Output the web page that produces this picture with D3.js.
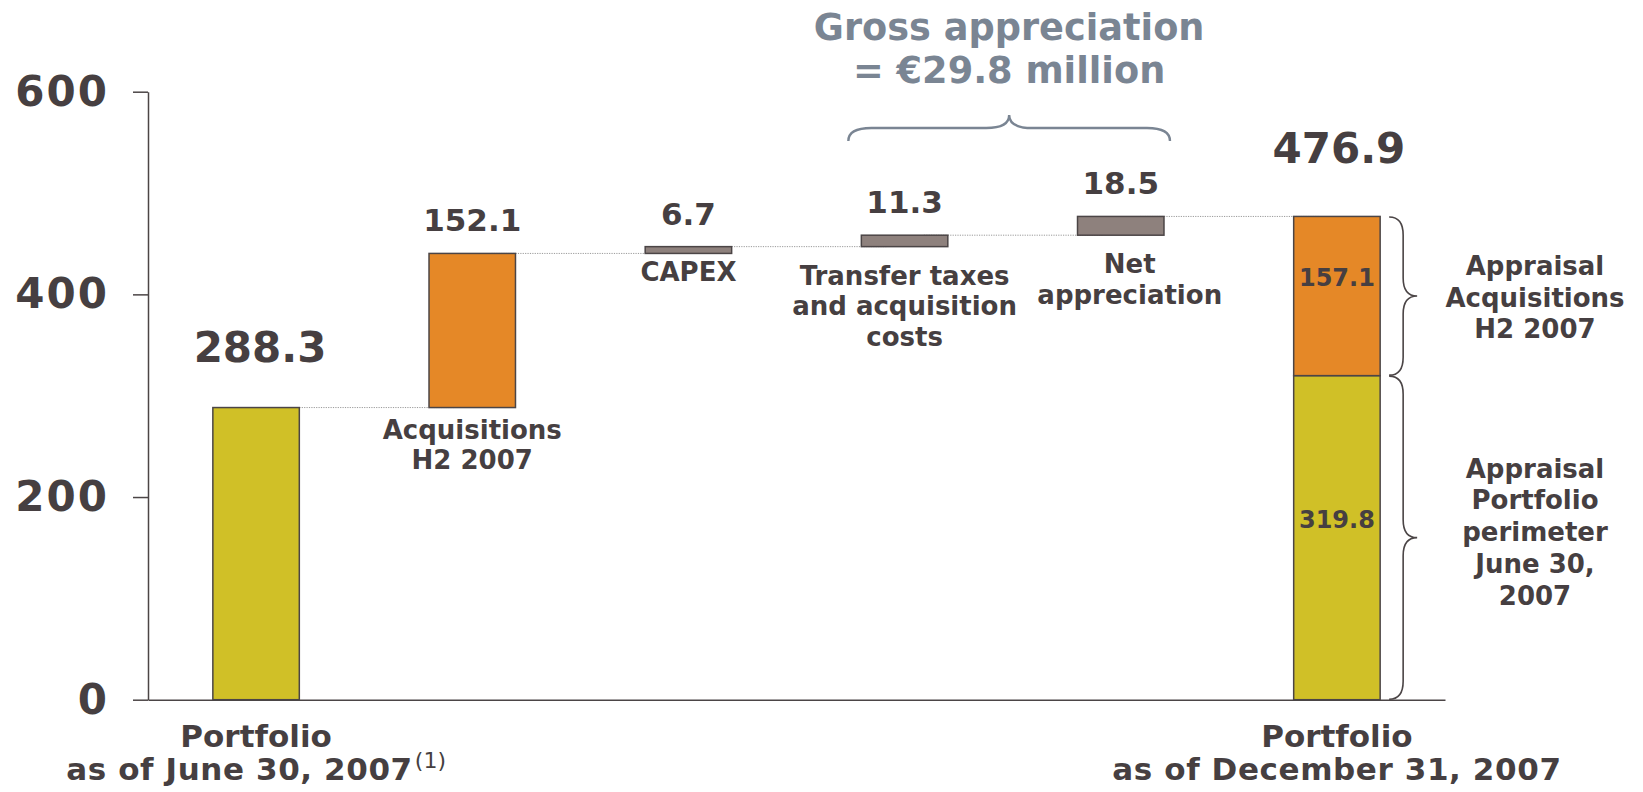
<!DOCTYPE html>
<html>
<head>
<meta charset="utf-8">
<script src="https://cdn.jsdelivr.net/npm/d3@7/dist/d3.min.js"></script>
<style>
  html, body { margin: 0; padding: 0; background: #ffffff; }
  svg { display: block; }
  text { font-family: "DejaVu Sans", Verdana, sans-serif; font-weight: bold; }
</style>
</head>
<body>
<svg id="chart" width="1643" height="792"></svg>
<script>
// Portfolio bridge, June 30 2007 -> December 31 2007 (EUR million)
const startLabel = ["Portfolio", "as of June 30, 2007"];
const endLabel = ["Portfolio", "as of December 31, 2007"];
const startValue = 288.3;
const stepNames = [
  ["Acquisitions", "H2 2007"],
  ["CAPEX"],
  ["Transfer taxes", "and acquisition", "costs"],
  ["Net", "appreciation"]
];
const stepValues = [152.1, 6.7, 11.3, 18.5];
const endSegmentNames = [
  ["Appraisal", "Portfolio", "perimeter", "June 30,", "2007"],
  ["Appraisal", "Acquisitions", "H2 2007"]
];
const endSegmentValues = [319.8, 157.1];
const yTicks = [0, 200, 400, 600];

const colors = {
  portfolio: "#D0C027",
  acquisition: "#E58827",
  step: "#8E817D",
  stroke: "#4B4546",
  text: "#463F41",
  title: "#7A8593",
  connector: "#9A9A9A"
};

const svg = d3.select("#chart");
const ids = d3.range(stepValues.length + 2);

const x = d3.scaleBand().domain(ids).range([148, 1445]).paddingInner(0.6).paddingOuter(0.3);
const y = d3.scaleLinear().domain([0, 600]).range([699.7, 91.7]);
const bw = x.bandwidth();
const fmt = d3.format(".1f");

// cumulative positions of the floating steps
const steps = [];
let running = startValue;
stepValues.forEach((v, i) => {
  steps.push({ id: i + 1, v0: running, v1: running + v, value: v, name: stepNames[i] });
  running += v;
});
const endTotal = d3.sum(endSegmentValues);
const endId = ids[ids.length - 1];

// axes
const yAxis = svg.append("g")
  .attr("transform", `translate(${x.range()[0]},0)`)
  .call(d3.axisLeft(y).tickValues(yTicks).tickSize(15).tickSizeOuter(0).tickPadding(26).tickFormat(d3.format("d")));
yAxis.select(".domain").attr("stroke", colors.stroke).attr("stroke-width", 1.5);
yAxis.selectAll(".tick line").attr("stroke", colors.stroke).attr("stroke-width", 1.5);
yAxis.selectAll(".tick text")
  .attr("fill", colors.text)
  .attr("dx", 2)
  .style("letter-spacing", "2px")
  .style("font-size", "42px")
  .style("font-family", "'DejaVu Sans', Verdana, sans-serif")
  .style("font-weight", "bold");

const xAxis = svg.append("g")
  .attr("transform", `translate(0,${y(0)})`)
  .call(d3.axisBottom(x).tickSize(0).tickFormat(""));
xAxis.select(".domain").attr("stroke", colors.stroke).attr("stroke-width", 1.5);

// dotted connectors between consecutive bars
const levels = [startValue, ...steps.map(s => s.v1)];
const connectors = levels.map((lv, i) => ({ from: i, to: i + 1, v: lv }));
svg.append("g").selectAll("line")
  .data(connectors)
  .join("line")
  .attr("x1", d => x(d.from) + bw - 24)
  .attr("x2", d => x(d.to) + 26)
  .attr("y1", d => y(d.v))
  .attr("y2", d => y(d.v))
  .attr("stroke", colors.connector)
  .attr("stroke-width", 1)
  .attr("stroke-dasharray", "1.2,1.2");

// starting portfolio bar
svg.append("rect")
  .attr("x", x(0)).attr("width", bw)
  .attr("y", y(startValue)).attr("height", y(0) - y(startValue))
  .attr("fill", colors.portfolio).attr("stroke", colors.stroke).attr("stroke-width", 1.5);

// floating step bars
svg.append("g").selectAll("rect")
  .data(steps)
  .join("rect")
  .attr("x", d => x(d.id)).attr("width", bw)
  .attr("y", d => y(d.v1)).attr("height", d => y(d.v0) - y(d.v1))
  .attr("fill", (d, i) => i === 0 ? colors.acquisition : colors.step)
  .attr("stroke", colors.stroke).attr("stroke-width", 1.5);

// stacked closing bar
const segs = [];
let acc = 0;
endSegmentValues.forEach((v, i) => { segs.push({ v0: acc, v1: acc + v, value: v, name: endSegmentNames[i], i }); acc += v; });
svg.append("g").selectAll("rect")
  .data(segs)
  .join("rect")
  .attr("x", x(endId)).attr("width", bw)
  .attr("y", d => y(d.v1)).attr("height", d => y(d.v0) - y(d.v1))
  .attr("fill", d => d.i === 0 ? colors.portfolio : colors.acquisition)
  .attr("stroke", colors.stroke).attr("stroke-width", 1.5);

// segment values inside the closing bar
svg.append("g").selectAll("text")
  .data(segs)
  .join("text")
  .attr("x", x(endId) + bw / 2)
  .attr("y", d => (y(d.v0) + y(d.v1)) / 2 - 10)
  .attr("text-anchor", "middle")
  .attr("fill", colors.text)
  .style("font-size", "24px")
  .text(d => fmt(d.value));

// big totals
svg.append("text")
  .attr("x", x(0) + bw / 2 + 4).attr("y", y(startValue) - 46)
  .attr("text-anchor", "middle").attr("fill", colors.text)
  .style("font-size", "42px").text(fmt(startValue));
svg.append("text")
  .attr("x", x(endId) + bw / 2 + 2).attr("y", y(endTotal) - 53)
  .attr("text-anchor", "middle").attr("fill", colors.text)
  .style("font-size", "42px").text(fmt(endTotal));

// step values above the bars
svg.append("g").selectAll("text")
  .data(steps)
  .join("text")
  .attr("x", d => x(d.id) + bw / 2)
  .attr("y", d => y(d.v1) - 22)
  .attr("text-anchor", "middle").attr("fill", colors.text)
  .style("font-size", "31px")
  .text(d => fmt(d.value));

// step names below the bars
const nameDy = [31, 28, 38, 38];
const nameDx = [0, 0, 0, 9];
const lineH = 30.5;
steps.forEach((s, i) => {
  const t = svg.append("text")
    .attr("text-anchor", "middle").attr("fill", colors.text)
    .style("font-size", "26px");
  s.name.forEach((ln, k) => {
    t.append("tspan")
      .attr("x", x(s.id) + bw / 2 + nameDx[i])
      .attr("y", y(s.v0) + nameDy[i] + k * lineH)
      .text(ln);
  });
});

// category labels under the axis
function bottomLabel(id, lines, note) {
  const cx = x(id) + bw / 2;
  svg.append("text").attr("x", cx).attr("y", y(0) + 47)
    .attr("text-anchor", "middle").attr("fill", colors.text)
    .style("font-size", "31px").text(lines[0]);
  const t2 = svg.append("text").attr("x", cx).attr("y", y(0) + 80.5)
    .attr("text-anchor", "middle").attr("fill", colors.text)
    .style("font-size", "31px").style("letter-spacing", "0.6px");
  t2.append("tspan").text(lines[1]);
  if (note) {
    t2.append("tspan").attr("dy", -12).attr("dx", 2)
      .style("font-size", "22px").style("font-weight", "normal").style("letter-spacing", "0px").text(note);
  }
}
bottomLabel(0, startLabel, "(1)");
bottomLabel(endId, endLabel, null);

// curly braces beside the closing bar
function vBrace(x0, y0, y1, w) {
  const xm = x0 + w / 2, x1 = x0 + w, ym = (y0 + y1) / 2, r = Math.min(18, (y1 - y0) / 4);
  return `M${x0},${y0} Q${xm},${y0} ${xm},${y0 + r} L${xm},${ym - r} Q${xm},${ym} ${x1},${ym}` +
         ` Q${xm},${ym} ${xm},${ym + r} L${xm},${y1 - r} Q${xm},${y1} ${x0},${y1}`;
}
const braceX = x(endId) + bw + 9;
const annOffsets = [-6, 1];
segs.forEach((d, i) => {
  const y0 = y(d.v1), y1 = y(d.v0);
  svg.append("path")
    .attr("d", vBrace(braceX, y0 + 0.5, y1 - 0.5, 28))
    .attr("fill", "none").attr("stroke", colors.stroke).attr("stroke-width", 1.6);
  const mid = (y0 + y1) / 2 + annOffsets[i];
  const n = d.name.length, L = 31.8;
  const t = svg.append("text").attr("text-anchor", "middle").attr("fill", colors.text)
    .style("font-size", "26px");
  d.name.forEach((ln, k) => {
    t.append("tspan").attr("x", 1535)
      .attr("y", mid - (n - 1) * L / 2 + 9.5 + k * L)
      .text(ln);
  });
});

// gross appreciation bracket over the last two steps
const gross = stepValues[2] + stepValues[3];
const gx0 = x(3) - 13, gx1 = x(4) + bw + 6, gxm = (gx0 + gx1) / 2;
const gyEnd = 141, gyBar = 128, gyTip = 115, gr = 23;
svg.append("path")
  .attr("d", `M${gx0},${gyEnd} Q${gx0},${gyBar} ${gx0 + gr},${gyBar} L${gxm - gr},${gyBar} Q${gxm},${gyBar} ${gxm},${gyTip}` +
             ` Q${gxm},${gyBar} ${gxm + gr},${gyBar} L${gx1 - gr},${gyBar} Q${gx1},${gyBar} ${gx1},${gyEnd}`)
  .attr("fill", "none").attr("stroke", colors.title).attr("stroke-width", 2.4);
const title = svg.append("text").attr("text-anchor", "middle").attr("fill", colors.title)
  .style("font-size", "36.7px");
title.append("tspan").attr("x", gxm).attr("y", 40).text("Gross appreciation");
title.append("tspan").attr("x", gxm).attr("y", 83.3).text(`= €${fmt(gross)} million`);
</script>
</body>
</html>
